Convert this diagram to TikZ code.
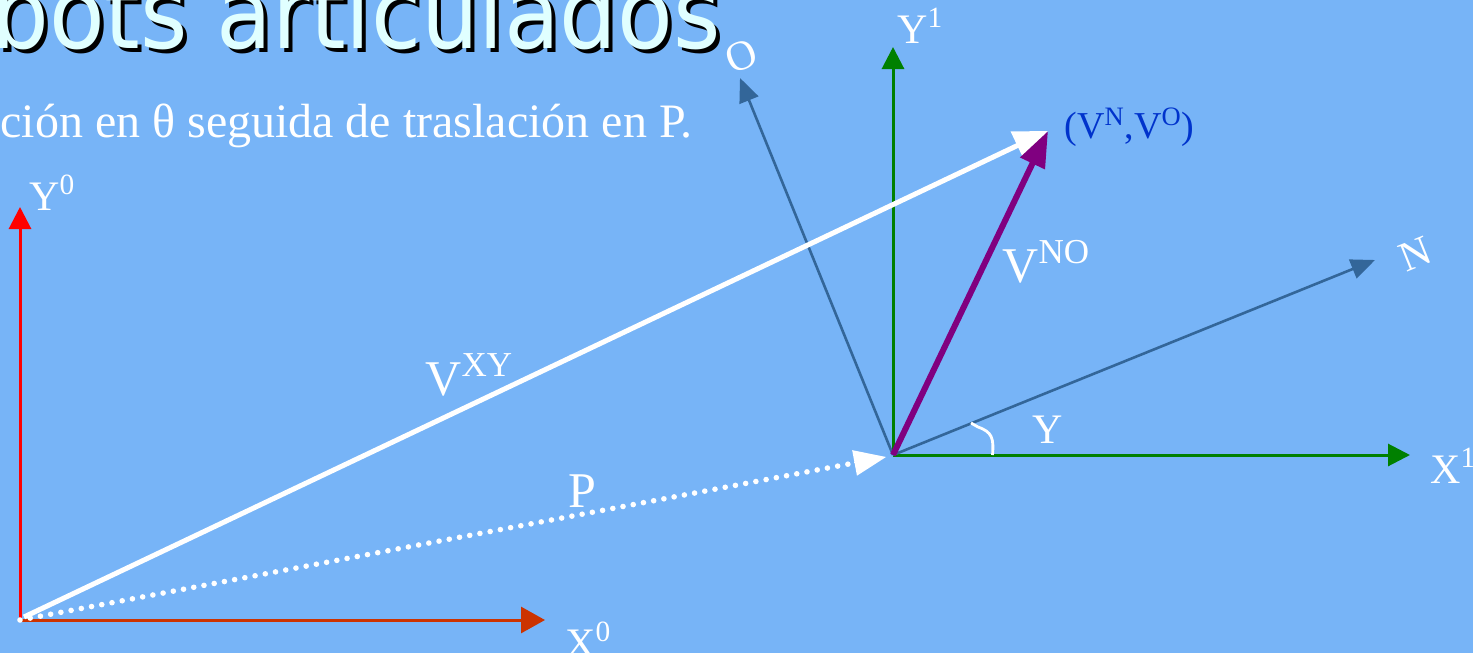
\documentclass[tikz,border=0pt]{standalone}
\usepackage{graphicx}
\usepackage{fontspec}
\setmainfont{Liberation Serif}
\newfontfamily\titlefont{DejaVu Sans}
\usetikzlibrary{arrows.meta,calc}
\definecolor{bg}{RGB}{119,180,247}
\definecolor{titlecyan}{RGB}{224,255,255}
\definecolor{axisred}{RGB}{255,0,0}
\definecolor{axisorange}{RGB}{204,51,0}
\definecolor{axisgreen}{RGB}{0,128,0}
\definecolor{steel}{RGB}{51,102,153}
\definecolor{vpurple}{RGB}{128,0,128}
\definecolor{lblblue}{RGB}{0,51,204}
\begin{document}
\begin{tikzpicture}[x=0.5pt,y=-0.5pt,
  lbl/.style={text=white,inner sep=0pt,font=\fontsize{21}{25}\selectfont},
  biglbl/.style={text=white,inner sep=0pt,font=\fontsize{25}{30}\selectfont},
  axis/.style={line width=1.5pt,-{Triangle[length=11pt,width=11pt]}},
  frame/.style={line width=1.3pt,draw=steel,-{Triangle[length=12pt,width=10pt]}},
  vec/.style={line width=2.5pt}]
\fill[bg] (0,0) rectangle (1473,653);
\useasboundingbox (0,0) rectangle (1473,653);

% title and subtitle
\node[anchor=base west,inner sep=0pt,text=black,font=\titlefont\fontsize{41}{48}\selectfont] (titleshadow) at (-5,52) {\scalebox{1.11}[1.22]{bots articulados}};
\node[anchor=base west,inner sep=0pt,text=titlecyan,font=\titlefont\fontsize{41}{48}\selectfont] (title) at (-9,48) {\scalebox{1.11}[1.22]{bots articulados}};
\node[anchor=base west,inner sep=0pt,text=white,font=\fontsize{24}{29}\selectfont] (subtitle) at (0,137) {ción en θ seguida de traslación en P.};

% points
\coordinate (O0) at (20,620);
\coordinate (O0v) at (24,617);
\coordinate (O1) at (893,455);
\coordinate (Y0tip) at (20,207);
\coordinate (X0tip) at (545,620);
\coordinate (X1tip) at (1410,455);
\coordinate (Y1tip) at (893,47);
\coordinate (Ntip) at (1375,260);
\coordinate (Otip) at (740,78);
\coordinate (Vtip) at (1048,131);
\coordinate (Ptip) at (886,457);

% base frame
\draw[axis,axisred] (O0) -- (Y0tip);
\draw[axis,axisorange,-{Triangle[length=12pt,width=13pt]}] (O0) -- (X0tip);

% moving frame
\draw[axis,axisgreen] (O1) -- (X1tip);
\draw[axis,axisgreen] (O1) -- (Y1tip);
\draw[frame] (O1) -- (Ntip);
\draw[frame] (O1) -- (Otip);

% vectors
\draw[white,line width=2.8pt,line cap=round,dash pattern=on 0pt off 5.2pt] (O0) -- ($(Ptip)!0.03!(O0)$);
\draw[white,line width=0pt,-{Triangle[length=16pt,width=13pt]}] ($(Ptip)!0.035!(O0)$) -- (Ptip);
\draw[vec,white,-{Triangle[length=17pt,width=15pt]}] (O0v) -- (Vtip);
\draw[vec,vpurple,line width=3pt,-{Triangle[length=18pt,width=13pt]}] (O1) -- (Vtip);

% angle mark
\draw[white,line width=1.4pt] (992.5,455) .. controls (994,438) and (992,432) .. (978,427) -- (971,423);

% labels
\node[lbl,anchor=base west] (lY0) at (29,210) {Y\textsuperscript{0}};
\node[lbl,anchor=base west] (lX0) at (565,657) {X\textsuperscript{0}};
\node[lbl,anchor=base west] (lX1) at (1430,483) {X\textsuperscript{1}};
\node[lbl,anchor=base west] (lY1) at (897,43) {Y\textsuperscript{1}};
\node[lbl,rotate=22] (lO) at (741,56) {O};
\node[lbl,rotate=22] (lN) at (1415,254) {N};
\node[lbl,anchor=base west] (ltheta) at (1032,443) {Y};
\node[biglbl,anchor=base west] (lVXY) at (425,395) {V\textsuperscript{XY}};
\node[biglbl,anchor=base west] (lP) at (568,507) {P};
\node[biglbl,anchor=base west] (lVNO) at (1002,282) {V\textsuperscript{NO}};
\node[lbl,text=lblblue,anchor=base west,font=\fontsize{19}{23}\selectfont] (lVNVO) at (1064,138) {(V\textsuperscript{N},V\textsuperscript{O})};
\end{tikzpicture}
\end{document}
